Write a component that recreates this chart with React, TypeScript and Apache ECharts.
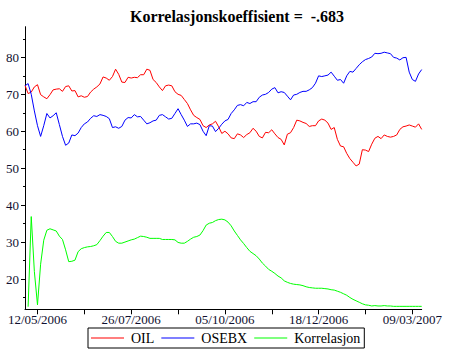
import { useEffect, useRef } from "react";
import * as echarts from "echarts";

const titleText = "Korrelasjonskoeffisient =  -.683";
const seriesNames = ["OIL", "OSEBX", "Korrelasjon"];
const seriesColors = ["#ff0000", "#0000ff", "#00ff00"];

// x tick labels (every 30th point starting at index 4)
const xTickLabels = ["12/05/2006", "26/07/2006", "05/10/2006", "18/12/2006", "09/03/2007"];
const firstLabelIndex = 4;
const labelStep = 30;
const tickStep = 15;

const yLabelValues = [20, 30, 40, 50, 60, 70, 80];
const yMinorTickValues = [15, 25, 35, 45, 55, 65, 75, 85];
const yMin = 11.8;
const yMax = 88.3;

const oil = [
  72.4, 70.2, 70.6, 72.0, 72.6, 69.9, 69.3, 68.8, 69.9, 71.2,
  71.4, 71.5, 70.8, 72.1, 72.3, 70.9, 71.0, 69.3, 69.6, 69.2,
  69.4, 70.6, 71.4, 72.0, 72.8, 74.7, 74.4, 73.8, 74.8, 76.8,
  75.4, 73.3, 73.2, 74.6, 74.4, 74.6, 74.5, 75.3, 75.3, 76.8,
  76.5, 74.0, 73.2, 72.0, 71.0, 72.3, 72.5, 72.3, 70.7, 70.0,
  69.7, 68.6, 67.5, 65.8, 64.3, 63.7, 63.2, 61.5, 61.0, 61.7,
  62.0, 62.7, 61.2, 59.4, 60.0, 59.3, 58.2, 58.0, 59.3, 59.0,
  58.3, 59.1, 59.6, 60.8, 60.0, 58.6, 58.2, 59.7, 59.6, 60.4,
  59.3, 58.3, 57.8, 56.3, 59.2, 59.6, 61.0, 63.0, 62.8, 62.4,
  62.1, 61.3, 61.5, 61.5, 62.8, 63.3, 63.0, 62.2, 60.5, 61.0,
  57.8, 56.0, 55.8, 54.0, 52.6, 51.6, 50.6, 51.1, 55.0, 54.9,
  54.5, 56.5, 58.1, 58.6, 58.0, 59.0, 58.6, 58.4, 58.6, 59.0,
  60.5, 61.2, 61.4, 61.7, 61.4, 61.1, 62.0, 60.5,
];

const osebx = [
  72.3, 72.9, 70.0, 65.5, 61.5, 58.6, 61.5, 64.8, 63.6, 64.2,
  65.0, 61.8, 58.6, 56.2, 56.8, 59.0, 58.8, 59.5, 61.0, 62.0,
  62.5, 63.5, 64.2, 64.0, 64.5, 64.3, 64.0, 63.4, 61.0, 61.2,
  60.8, 61.3, 63.0, 63.7, 63.6, 64.5, 63.9, 64.0, 63.0, 62.0,
  62.3, 62.8, 63.0, 64.3, 64.5, 63.9, 63.3, 63.5, 64.8, 66.1,
  64.5, 63.0, 61.3, 62.0, 62.0, 62.2, 61.8, 60.0, 58.8, 61.5,
  61.4, 59.9, 60.8, 61.9, 62.8, 63.2, 64.8, 65.8, 67.0, 67.2,
  66.9, 67.8, 67.5, 68.0, 68.0, 69.2, 69.8, 70.0, 70.5, 71.4,
  71.8, 70.4, 70.7, 70.5, 69.5, 68.5, 69.8, 70.0, 70.5, 70.8,
  70.8, 71.2, 71.8, 73.0, 75.0, 74.8, 75.0, 75.2, 76.0, 74.9,
  73.8, 74.0, 73.0, 75.0, 76.2, 76.0, 77.0, 78.0, 78.8, 79.4,
  79.7, 80.1, 81.1, 81.0, 81.1, 81.4, 81.2, 81.0, 80.0, 79.8,
  79.3, 79.9, 80.0, 76.0, 74.0, 73.5, 75.5, 76.7,
];

const korrelasjon = [
  null, 12.5, 36.9, 22.0, 13.0, 24.0, 30.5, 33.2, 33.6, 33.3,
  33.0, 31.6, 30.7, 27.9, 24.7, 24.8, 25.1, 27.4, 28.2, 28.5,
  28.7, 28.8, 29.0, 29.3, 30.4, 31.6, 32.6, 32.6, 31.5, 30.2,
  29.7, 29.7, 30.0, 30.3, 30.6, 30.8, 31.2, 31.6, 31.5, 31.3,
  31.0, 31.0, 31.0, 31.0, 30.7, 30.7, 30.7, 30.7, 30.6, 29.9,
  29.7, 29.7, 30.2, 30.8, 31.3, 31.5, 31.9, 33.1, 34.6, 35.1,
  35.3, 35.8, 36.1, 36.2, 36.0, 35.4, 34.4, 33.0, 31.8, 30.6,
  29.6, 28.5, 27.5, 26.9, 26.3, 25.4, 24.3, 23.5, 22.6, 22.1,
  21.5, 20.8, 20.3, 19.5, 19.1, 18.8, 18.6, 18.5, 18.4, 18.2,
  17.9, 17.7, 17.6, 17.5, 17.5, 17.5, 17.4, 17.3, 17.1, 17.0,
  16.7, 16.4, 16.0, 15.6, 15.0, 14.5, 14.1, 13.7, 13.3, 13.0,
  12.9, 12.7, 12.8, 12.7, 12.7, 12.8, 12.7, 12.7, 12.6, 12.6,
  12.6, 12.6, 12.6, 12.6, 12.6, 12.6, 12.6, 12.6,
];

const FONT = "'Liberation Serif', 'Times New Roman', serif";
const LABEL_COLOR = "#101030";

export default function App() {
  const ref = useRef<HTMLDivElement>(null);

  useEffect(() => {
    if (!ref.current) return;
    const chart = echarts.init(ref.current, null, { renderer: "svg" });
    const categories = oil.map((_, i) => String(i));
    const isTick = (i: number) => i >= firstLabelIndex && (i - firstLabelIndex) % tickStep === 0;
    const isLabel = (i: number) => i >= firstLabelIndex && (i - firstLabelIndex) % labelStep === 0;
    const dataSets = [oil, osebx, korrelasjon];

    chart.setOption({
      animation: false,
      title: {
        text: titleText,
        left: 232,
        top: 3,
        textAlign: "center",
        textStyle: { fontFamily: FONT, fontSize: 16, fontWeight: "bold", color: "#000" },
      },
      legend: {
        data: seriesNames,
        left: 88,
        top: 328,
        icon: "rect",
        itemWidth: 33,
        itemHeight: 1,
        itemGap: 7,
        padding: [3, 4, 3, 3],
        borderColor: "#000",
        borderWidth: 1,
        textStyle: { fontFamily: FONT, fontSize: 14, color: "#000", padding: [0, 0, 0, 2] },
      },
      grid: { left: 25, right: 35.3, top: 26.7, bottom: 51.7, containLabel: false },
      xAxis: {
        type: "category",
        data: categories,
        boundaryGap: false,
        axisLine: { lineStyle: { color: "#000", width: 1 } },
        axisTick: {
          interval: (i: number) => isTick(i),
          length: 5,
          lineStyle: { color: "#000" },
        },
        axisLabel: {
          interval: (i: number) => isLabel(i),
          formatter: (v: string) => {
            const i = Number(v);
            return isLabel(i) ? xTickLabels[(i - firstLabelIndex) / labelStep] ?? "" : "";
          },
          margin: 4,
          fontFamily: FONT,
          fontSize: 13,
          color: LABEL_COLOR,
        },
        splitLine: { show: false },
      },
      yAxis: [
        {
          type: "value",
          min: yMin,
          max: yMax,
          axisLine: { show: true, lineStyle: { color: "#000", width: 1 } },
          axisTick: { show: true, customValues: yLabelValues, length: 4, lineStyle: { color: "#000" } },
          axisLabel: {
            customValues: yLabelValues,
            margin: 6,
            fontFamily: FONT,
            fontSize: 13,
            color: LABEL_COLOR,
          },
          splitLine: { show: false },
        },
        {
          type: "value",
          min: yMin,
          max: yMax,
          position: "left",
          axisLine: { show: false },
          axisTick: { show: true, customValues: yMinorTickValues, length: 2, lineStyle: { color: "#000" } },
          axisLabel: { show: false },
          splitLine: { show: false },
        },
      ],
      series: seriesNames.map((name, k) => ({
        name,
        type: "line",
        data: dataSets[k],
        yAxisIndex: 0,
        symbol: "none",
        showSymbol: false,
        lineStyle: { color: seriesColors[k], width: 1 },
        itemStyle: { color: seriesColors[k] },
        connectNulls: false,
      })),
    });

    return () => chart.dispose();
  }, []);

  return (
    <div
      ref={ref}
      style={{ position: "absolute", left: 0, top: 0, width: 457, height: 361, background: "#fff" }}
    />
  );
}
